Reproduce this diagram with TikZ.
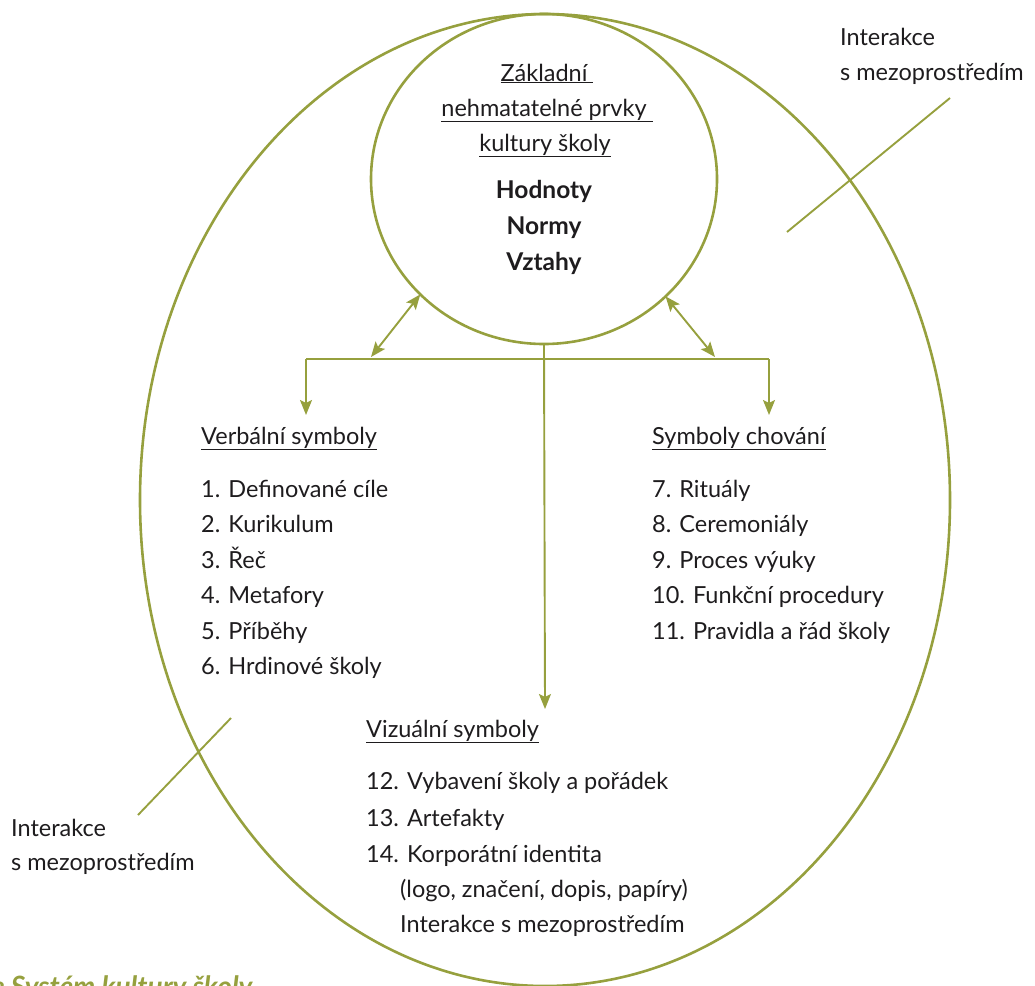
\documentclass[tikz,border=0pt]{standalone}
\usepackage{fontspec}
\setmainfont{Lato}
\usetikzlibrary{shapes.geometric,arrows.meta}
\definecolor{olive}{RGB}{150,160,62}
\definecolor{ink}{RGB}{30,28,30}
\tikzset{
  ring/.style={ellipse,draw=olive,line width=2.6pt,inner sep=0pt,outer sep=0pt},
  link/.style={draw=olive,line width=1.9pt},
  arr/.style={link,-{Stealth[length=15pt,width=12pt,inset=3pt]}},
  biarr/.style={link,{Stealth[length=15pt,width=12pt,inset=3pt]}-{Stealth[length=15pt,width=12pt,inset=3pt]}},
  txt/.style={anchor=base west,inner sep=0pt,text=ink,font=\fontsize{23.5}{28}\selectfont},
  ctxt/.style={anchor=base,inner sep=0pt,text=ink,font=\fontsize{23.5}{28}\selectfont},
  btxt/.style={ctxt,font=\fontsize{24.5}{29}\selectfont\bfseries},
  caption/.style={anchor=base west,inner sep=0pt,text=olive,font=\fontsize{28}{32}\selectfont\bfseries\itshape}
}
\begin{document}
\begin{tikzpicture}[x=1pt,y=-1pt]
\useasboundingbox (0,0) rectangle (1035,985);

% outer system and the core of values
\node[ring,minimum width=810pt,minimum height=972pt] (system) at (545,500) {};
\node[ring,minimum width=346pt,minimum height=330pt] (core) at (544,179) {};

% core contents
\node[ctxt] (c1) at (547,81) {\underline{Základní\ }};
\node[ctxt] (c2) at (547,116) {\underline{nehmatatelné prvky\ }};
\node[ctxt] (c3) at (545,151) {\underline{kultury školy}};
\node[btxt] (v1) at (544,198) {Hodnoty};
\node[btxt] (v2) at (544,234) {Normy};
\node[btxt] (v3) at (544,270) {Vztahy};

% branching connectors
\coordinate (hubL) at (306,359);
\coordinate (hubR) at (769,359);
\coordinate (tipL) at (306,415);
\coordinate (tipR) at (769,415);
\coordinate (tipV) at (545,709);
\coordinate (bL) at (371,357);
\coordinate (bR) at (715,357);
\draw[link] (hubL) -- (hubR);
\draw[arr] (hubL) -- (tipL);
\draw[arr] (hubR) -- (tipR);
\draw[arr] (core.south) -- (tipV);
\draw[biarr] (core.223) -- (bL);
\draw[biarr] (core.316) -- (bR);

% verbal symbols
\node[txt] (verb) at (201,444) {\underline{Verbální symboly}};
\node[txt] (i1) at (201,497) {1. Definované cíle};
\node[txt] (i2) at (201,532) {2. Kurikulum};
\node[txt] (i3) at (201,568) {3. Řeč};
\node[txt] (i4) at (201,603) {4. Metafory};
\node[txt] (i5) at (201,639) {5. Příběhy};
\node[txt] (i6) at (201,674) {6. Hrdinové školy};

% behavioural symbols
\node[txt] (beh) at (652,444) {\underline{Symboly chování}};
\node[txt] (i7) at (652,497) {7. Rituály};
\node[txt] (i8) at (652,532) {8. Ceremoniály};
\node[txt] (i9) at (652,568) {9. Proces výuky};
\node[txt] (i10) at (652,603) {10. Funkční procedury};
\node[txt] (i11) at (652,639) {11. Pravidla a řád školy};

% visual symbols
\node[txt] (viz) at (366,737) {\underline{Vizuální symboly}};
\node[txt] (i12) at (366,789) {12. Vybavení školy a pořádek};
\node[txt] (i13) at (366,826) {13. Artefakty};
\node[txt] (i14) at (366,862) {14. Korporátní identita};
\node[txt] (i14a) at (400,897) {(logo, značení, dopis, papíry)};
\node[txt] (i14b) at (400,932) {Interakce s mezoprostředím};

% interaction with the surroundings
\node[txt] (envR1) at (840,45) {Interakce};
\node[txt] (envR2) at (840,80) {s mezoprostředím};
\coordinate (pR1) at (787,232);
\coordinate (pR2) at (950,98);
\draw[link] (pR1) -- (pR2);

\node[txt] (envL1) at (11,836) {Interakce};
\node[txt] (envL2) at (11,870) {s mezoprostředím};
\coordinate (pL1) at (138,815);
\coordinate (pL2) at (231,718);
\draw[link] (pL1) -- (pL2);

% figure caption
\node[caption] (cap) at (-9,996) {e Systém kultury školy};
\end{tikzpicture}
\end{document}
